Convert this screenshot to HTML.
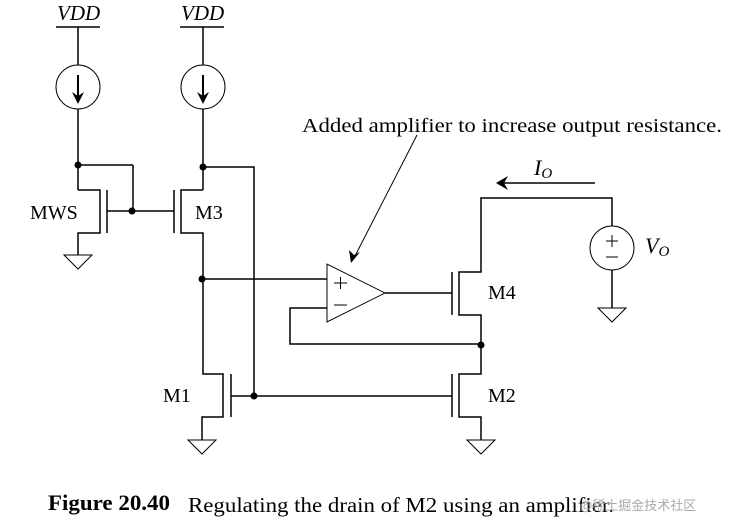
<!DOCTYPE html>
<html><head><style>body{margin:0;background:#fff}svg{display:block}</style></head><body>
<svg width="735" height="531" viewBox="0 0 735 531" xmlns="http://www.w3.org/2000/svg" font-family="Liberation Serif, serif">
<g stroke="#000" stroke-width="1.5" fill="none">
<line x1="56" y1="27" x2="100" y2="27"/>
<line x1="78" y1="27" x2="78" y2="65"/>
<circle cx="78" cy="87" r="22" stroke-width="1"/>
<line x1="78" y1="109" x2="78" y2="190"/>
<line x1="78" y1="165" x2="133" y2="165"/>
<line x1="133" y1="165" x2="133" y2="211"/>
<polyline points="78,190 100,190 100,233 78,233 78,255"/>
<line x1="107" y1="190" x2="107" y2="233"/>
<line x1="107" y1="211" x2="174" y2="211"/>
<line x1="180" y1="27" x2="224" y2="27"/>
<line x1="203" y1="27" x2="203" y2="65"/>
<circle cx="203" cy="87" r="22" stroke-width="1"/>
<line x1="203" y1="109" x2="203" y2="190"/>
<line x1="174" y1="190" x2="174" y2="233"/>
<polyline points="203,190 181,190 181,233 203,233 203,374 223,374 223,417 202,417 202,440"/>
<polyline points="203,167 254,167 254,396"/>
<line x1="231" y1="374" x2="231" y2="417"/>
<line x1="231" y1="396" x2="452" y2="396"/>
<line x1="203" y1="279" x2="327" y2="279"/>
<polygon points="327,264 327,322 385,293" stroke-width="1"/>
<polyline points="327,308 290,308 290,344 481,344"/>
<line x1="385" y1="293" x2="452" y2="293"/>
<line x1="452" y1="272" x2="452" y2="315"/>
<polyline points="612,226 612,198 481,198 481,272 459,272 459,315 481,315 481,374 459,374 459,417 481,417 481,440"/>
<line x1="452" y1="374" x2="452" y2="417"/>
<circle cx="612" cy="248" r="22" stroke-width="1"/>
<line x1="612" y1="270" x2="612" y2="308"/>
<line x1="499" y1="183" x2="595" y2="183"/>
<line x1="417" y1="135" x2="354" y2="258" stroke-width="1"/>
<polygon points="64,255 92,255 78,269" stroke-width="1"/>
<polygon points="188,440 216,440 202,454" stroke-width="1"/>
<polygon points="467,440 495,440 481,454" stroke-width="1"/>
<polygon points="598,308 626,308 612,322" stroke-width="1"/>
<line x1="78" y1="75" x2="78" y2="98" stroke-width="2"/>
<line x1="203" y1="75" x2="203" y2="98" stroke-width="2"/>
<line x1="334" y1="283" x2="347" y2="283" stroke-width="1"/><line x1="340.5" y1="277" x2="340.5" y2="289" stroke-width="1"/>
<line x1="334" y1="305" x2="347" y2="305" stroke-width="1"/>
<line x1="606" y1="241" x2="618" y2="241" stroke-width="1"/><line x1="612" y1="235" x2="612" y2="247" stroke-width="1"/>
<line x1="606" y1="257" x2="618" y2="257" stroke-width="1"/>
</g>
<g fill="#000">
<polygon points="72,92 78,104 84,92 78,96"/>
<polygon points="197,92 203,104 209,92 203,96"/>
<polygon points="496,183 508,176 504,183 508,190"/>
<polygon points="351,263 349,250 354,255 360,252"/>
<circle cx="78" cy="165" r="3.5"/><circle cx="132" cy="211" r="3.5"/>
<circle cx="203" cy="167" r="3.5"/><circle cx="202" cy="279" r="3.5"/>
<circle cx="254" cy="396" r="3.5"/><circle cx="481" cy="345" r="3.5"/>
</g>
<g font-size="20" fill="#000">
<text x="57" y="20" font-style="italic" font-size="21">VDD</text>
<text x="181" y="20" font-style="italic" font-size="21">VDD</text>
<text x="30" y="219">MWS</text>
<text x="195" y="219">M3</text>
<text x="163" y="402">M1</text>
<text x="488" y="402">M2</text>
<text x="488" y="299">M4</text>
<text x="534" y="175" font-style="italic" font-size="22">I<tspan font-size="15" dy="3">O</tspan></text>
<text x="645" y="253" font-style="italic" font-size="22">V<tspan font-size="15" dy="3">O</tspan></text>
<text x="302" y="132" font-size="20" textLength="420" lengthAdjust="spacingAndGlyphs">Added amplifier to increase output resistance.</text>
<text x="48" y="510" font-weight="bold" font-size="22" textLength="122" lengthAdjust="spacingAndGlyphs">Figure 20.40</text>
<text x="188" y="512" font-size="21" textLength="426" lengthAdjust="spacingAndGlyphs">Regulating the drain of M2 using an amplifier.</text>
<text x="580" y="510" font-size="13" fill="#aaa" font-family="Noto Sans CJK SC, sans-serif">@稀土掘金技术社区</text>
</g>
</svg>
</body></html>
